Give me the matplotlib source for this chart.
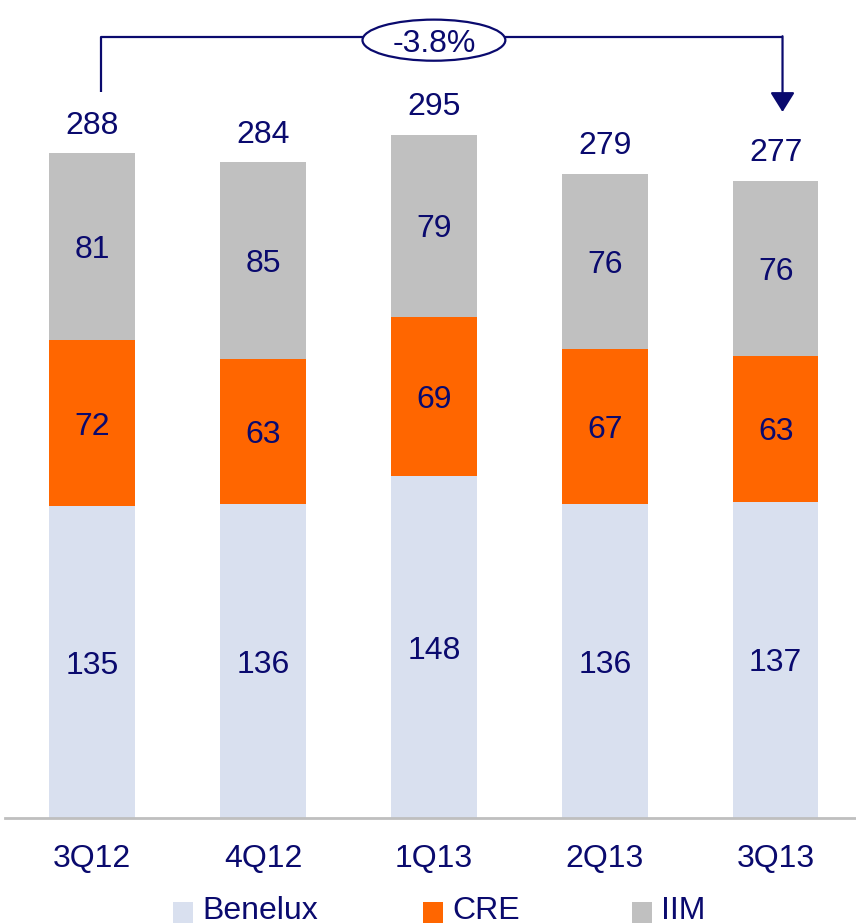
"""
Stacked quarterly bars by segment with a total change bracket
"""
import matplotlib.pyplot as plt
import numpy as np
from matplotlib.patches import Ellipse, Rectangle

plt.rcParams["font.family"] = ["Liberation Sans", "DejaVu Sans"]

quarters = ["3Q12", "4Q12", "1Q13", "2Q13", "3Q13"]
benelux = [135, 136, 148, 136, 137]
cre = [72, 63, 69, 67, 63]
iim = [81, 85, 79, 76, 76]
totals = [288, 284, 295, 279, 277]
change_label = "-3.8%"

series = [("Benelux", benelux, "#D9E0EF"), ("CRE", cre, "#FF6600"), ("IIM", iim, "#C0C0C0")]
navy = "#0A0A6E"
fs = 23

fig = plt.figure(figsize=(8.56, 9.23), dpi=100)
ax = fig.add_axes([5 / 856, 105 / 923, 851 / 856, 818 / 923])

x = np.arange(len(quarters))
bottom = np.zeros(len(quarters))
for name, vals, color in series:
    vals = np.array(vals, dtype=float)
    ax.bar(x, vals, width=0.5, bottom=bottom, color=color, edgecolor="none", label=name)
    for xi, b, v in zip(x, bottom, vals):
        ax.text(xi, b + v / 2, f"{v:.0f}", ha="center", va="center_baseline", fontsize=fs, color=navy)
    bottom += vals

# totals above each bar
for xi, top, t in zip(x, bottom, totals):
    ax.annotate(str(t), (xi, top), xytext=(0, 9), textcoords="offset points",
                ha="center", va="bottom", fontsize=fs, color=navy)

ax.set_xlim(-0.51, 4.47)
ax.set_ylim(0, 354.3)

# bracket from first to last quarter
y_line = 338.2
x0, x1 = 0.05, 4.04
ax.plot([x0, x0, x1], [314.4, y_line, y_line], color=navy, lw=1.6, solid_capstyle="butt", clip_on=False)
ax.annotate("", xy=(x1, 305.8), xytext=(x1, y_line + 0.4),
            arrowprops=dict(arrowstyle="-|>,head_width=0.75,head_length=1.2", color=navy, lw=1.6,
                            shrinkA=0, shrinkB=0))
ell = Ellipse((2.0, 336.9), width=0.836, height=17.8, facecolor="white", edgecolor=navy, lw=1.6, zorder=5)
ax.add_patch(ell)
ax.text(2.0, 336.9, change_label, ha="center", va="center_baseline", fontsize=fs, color=navy, zorder=6)

for s in ["top", "left", "right"]:
    ax.spines[s].set_visible(False)
ax.spines["bottom"].set_color("#BFBFBF")
ax.spines["bottom"].set_linewidth(2)
ax.set_yticks([])
ax.set_xticks(x, quarters)
ax.tick_params(axis="x", length=0, pad=19, labelsize=fs, labelcolor=navy)

# legend along the bottom edge
legend_x = [173, 423, 632]
for (name, _, color), lx in zip(series, legend_x):
    fig.add_artist(Rectangle((lx / 856, 0), 20 / 856, 21 / 923, transform=fig.transFigure,
                             facecolor=color, edgecolor="none"))
    fig.text((lx + 29) / 856, 4 / 923, name, ha="left", va="baseline", fontsize=fs, color=navy)

fig.savefig("out.png", dpi=100)
